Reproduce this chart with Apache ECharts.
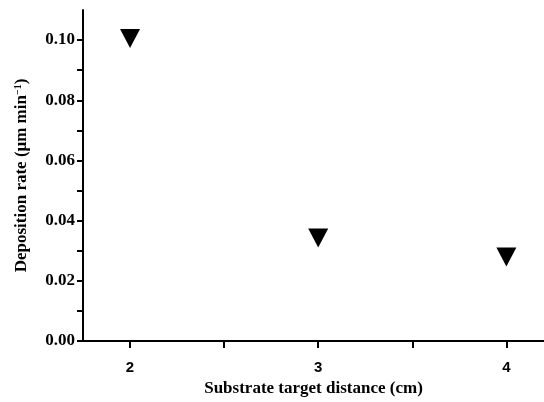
<!DOCTYPE html>
<html>
<head>
<meta charset="utf-8">
<script src="https://cdn.jsdelivr.net/npm/echarts@6/dist/echarts.min.js"></script>
<style>
  html, body { margin: 0; padding: 0; background: #fff; }
  #main { width: 544px; height: 402px; }
</style>
</head>
<body>
<div id="main"></div>
<script>
// 数据
var distances = [2, 3, 4];
var rates = [0.1005, 0.0342, 0.0279];
var xTickValues = [2, 2.5, 3, 3.5, 4];
var xLabelValues = [2, 3, 4];
var yTickValues = [0, 0.01, 0.02, 0.03, 0.04, 0.05, 0.06, 0.07, 0.08, 0.09, 0.10];
var yLabelValues = [0, 0.02, 0.04, 0.06, 0.08, 0.10];

var myChart = echarts.init(document.getElementById("main"));

var points = distances.map(function (d, i) {
  return [d, rates[i]];
});

var option = {
  animation: false,
  grid: {
    left: 83,
    right: 0,
    top: 10,
    bottom: 60,
  },
  xAxis: {
    type: "value",
    min: 1.75,
    max: 4.2,
    name: "Substrate target distance (cm)",
    nameLocation: "middle",
    nameGap: 39,
    nameTextStyle: {
      fontFamily: "Liberation Serif",
      fontWeight: "bold",
      fontSize: 17,
      color: "#000",
    },
    axisLine: {
      show: true,
      lineStyle: { color: "#000", width: 2 },
    },
    axisTick: {
      show: true,
      length: 7,
      customValues: xTickValues,
      lineStyle: { color: "#000", width: 2 },
    },
    axisLabel: {
      customValues: xLabelValues,
      fontFamily: "Liberation Sans",
      fontWeight: "bold",
      fontSize: 15,
      color: "#000",
      margin: 19,
    },
    splitLine: { show: false },
  },
  yAxis: {
    type: "value",
    min: 0,
    max: 0.11,
    name: "Deposition rate (μm min{sup|−1})",
    nameLocation: "middle",
    nameGap: 52,
    nameTextStyle: {
      fontFamily: "Liberation Serif",
      fontWeight: "bold",
      fontSize: 17,
      color: "#000",
      rich: {
        sup: {
          fontFamily: "Liberation Serif",
          fontWeight: "bold",
          fontSize: 10,
          color: "#000",
          verticalAlign: "top",
          padding: [0, 0, 8, 0],
        },
      },
    },
    axisLine: {
      show: true,
      lineStyle: { color: "#000", width: 2 },
    },
    axisTick: {
      show: true,
      length: 6,
      customValues: yTickValues,
      lineStyle: { color: "#000", width: 2 },
    },
    axisLabel: {
      customValues: yLabelValues,
      fontFamily: "Liberation Serif",
      fontWeight: "bold",
      fontSize: 17,
      color: "#000",
      margin: 8,
      formatter: function (v) {
        return v.toFixed(2);
      },
    },
    splitLine: { show: false },
  },
  series: [
    {
      type: "scatter",
      symbol: "triangle",
      symbolRotate: 180,
      symbolSize: [20, 19],
      itemStyle: { color: "#000", opacity: 1 },
      data: points,
    },
  ],
};
myChart.setOption(option);
</script>
</body>
</html>
